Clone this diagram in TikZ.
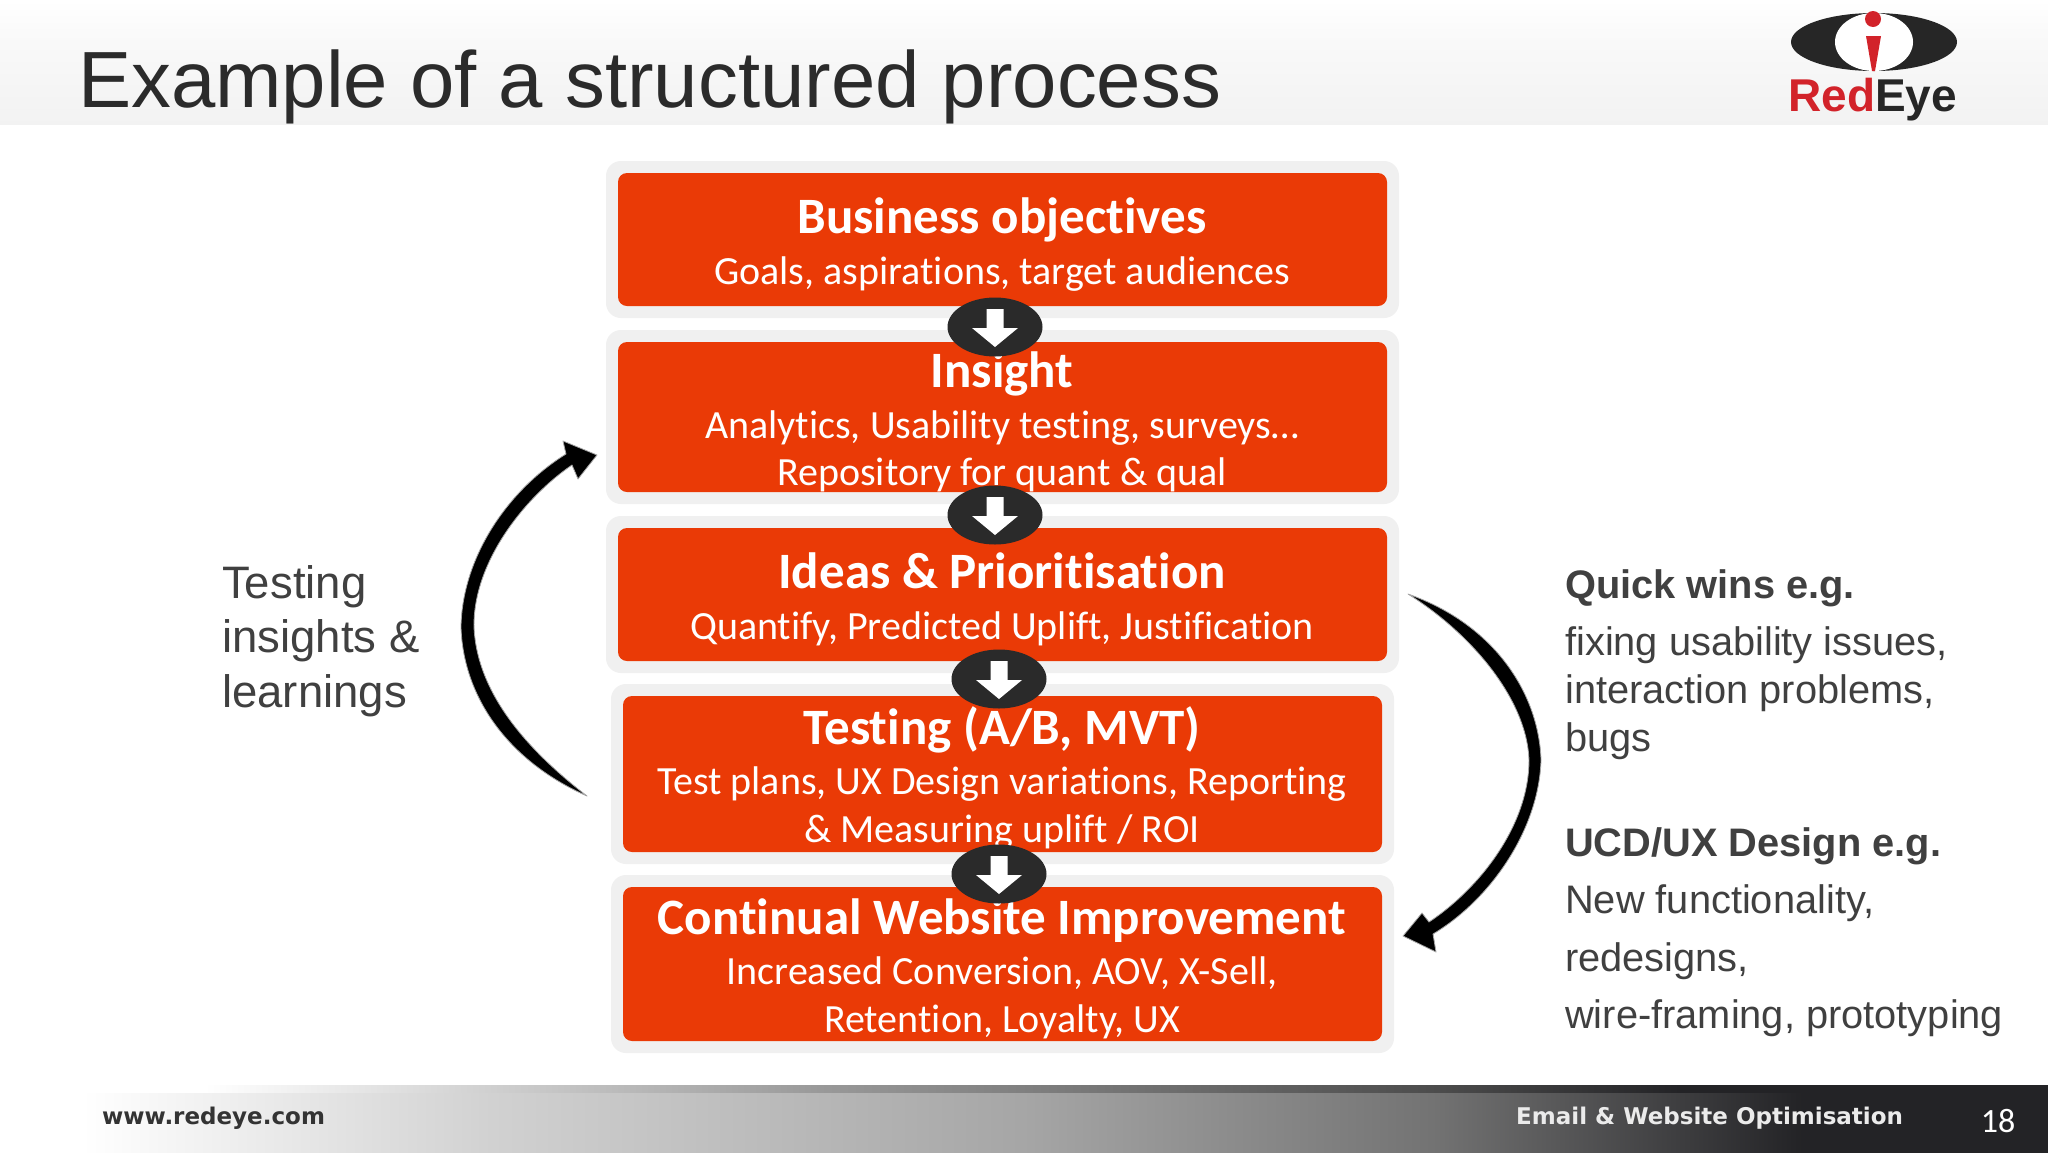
\documentclass[tikz,border=0pt]{standalone}
\usepackage{fontspec}
\setmainfont{Liberation Sans}
\newfontfamily\boxfont[Ligatures=NoCommon]{Carlito}
\newfontfamily\footfont{DejaVu Sans}
\usetikzlibrary{shapes.geometric}
\definecolor{boxorange}{HTML}{EA3A06}
\definecolor{halogray}{HTML}{F0F0F0}
\definecolor{ovaldark}{HTML}{2A2A2A}
\definecolor{footdark}{HTML}{232326}
\definecolor{inktext}{HTML}{404040}
\definecolor{titleink}{HTML}{2B2B2B}
\definecolor{logored}{HTML}{D2232A}
\pgfdeclareverticalshading{headshade}{100bp}{color(0bp)=(white!95!black); color(25bp)=(white!95!black); color(62bp)=(white!98!black); color(75bp)=(white); color(100bp)=(white)}
\pgfdeclarehorizontalshading{footshade}{100bp}{color(0bp)=(white); color(27bp)=(white); color(37bp)=(white!82!black); color(50bp)=(white!65!black); color(60bp)=(white!45!black); color(69bp)=(footdark); color(100bp)=(footdark)}
\pgfdeclarehorizontalshading{footedge}{100bp}{color(0bp)=(white); color(30bp)=(white); color(45bp)=(white!60!black); color(60bp)=(white!30!black); color(66bp)=(footdark); color(100bp)=(footdark)}
\tikzset{
  x=1pt,y=-1pt,
  halo/.style={fill=halogray,rounded corners=15pt},
  panel/.style={fill=boxorange,rounded corners=9pt},
  headline/.style={anchor=base,text=white,font=\boxfont\bfseries\fontsize{51}{51}\selectfont,inner sep=0pt},
  subline/.style={anchor=base,text=white,font=\boxfont\fontsize{40}{40}\selectfont,inner sep=0pt},
  roundel/.style={ellipse,fill=ovaldark,minimum width=95pt,minimum height=59pt,inner sep=0pt},
  sidetext/.style={anchor=base west,text=inktext,font=\fontsize{39.8}{40}\selectfont,inner sep=0pt},
  sidehead/.style={anchor=base west,text=inktext,font=\bfseries\fontsize{39.8}{40}\selectfont,inner sep=0pt},
  lefttext/.style={anchor=base west,text=inktext,font=\fontsize{45.5}{46}\selectfont,inner sep=0pt},
  sweep/.style={fill=black,draw=black!35,line width=0.8pt,line join=round},
}
\newcommand{\downmark}[1]{\fill[white,shift={(#1.center)}] (-8.5,-18) -- (8.5,-18) -- (8.5,1) -- (23,1) -- (0,20) -- (-23,1) -- (-8.5,1) -- cycle;}
\begin{document}
\begin{tikzpicture}
\useasboundingbox (0,0) rectangle (2048,1152);
\fill[white] (0,0) rectangle (2048,1152);
% header band
\shade[shading=headshade] (0,0) rectangle (2048,124);
\node[anchor=base west,text=titleink,font=\fontsize{79.7}{80}\selectfont,inner sep=0pt] (title) at (78,107) {Example of a structured process};
% logo
\fill[black!85] (1874,42) ellipse [x radius=83, y radius=29];
\fill[white] (1874,42) ellipse [x radius=39, y radius=29];
\fill[logored] (1873,19) circle (8);
\fill[logored] (1866,36) -- (1881,36) -- (1875,71) -- (1872,71) -- cycle;
\node[anchor=base west,inner sep=0pt,font=\bfseries\fontsize{46}{46}\selectfont] (logoword) at (1788,111) {\textcolor{logored}{Red}\textcolor{black!85}{Eye}};
% halos
\fill[halo] (606,161) rectangle (1399,318);
\fill[halo] (606,330) rectangle (1399,504);
\fill[halo] (606,516) rectangle (1399,673);
\fill[halo] (611,684) rectangle (1394,864);
\fill[halo] (611,875) rectangle (1394,1053);
% boxes
\path[panel] (618,173) rectangle (1387,306);
\path[panel] (618,342) rectangle (1387,492);
\path[panel] (618,528) rectangle (1387,661);
\path[panel] (623,696) rectangle (1382,852);
\path[panel] (623,887) rectangle (1382,1041);
% box text
\node[headline] (t1) at (1002,233) {Business objectives};
\node[subline] (s1) at (1002,284) {Goals, aspirations, target audiences};
\node[headline] (t2) at (1002,387) {Insight};
\node[subline] (s2a) at (1002,438) {Analytics, Usability testing, surveys\ldots};
\node[subline] (s2b) at (1002,485) {Repository for quant \& qual};
\node[headline] (t3) at (1002,588) {Ideas \& Prioritisation};
\node[subline] (s3) at (1002,639.5) {Quantify, Predicted Uplift, Justification};
\node[headline] (t4) at (1002,744) {Testing (A/B, MVT)};
\node[subline] (s4a) at (1002,794.5) {Test plans, UX Design variations, Reporting};
\node[subline] (s4b) at (1002,842) {\& Measuring uplift / ROI};
\node[headline] (t5) at (1002,934) {Continual Website Improvement};
\node[subline] (s5a) at (1002,984.5) {Increased Conversion, AOV, X-Sell,};
\node[subline] (s5b) at (1002,1032.5) {Retention, Loyalty, UX};
% roundels
\node[roundel] (o1) at (995,327) {};
\node[roundel] (o2) at (995,515) {};
\node[roundel] (o3) at (999,679) {};
\node[roundel] (o4) at (999,874) {};
\downmark{o1}\downmark{o2}\downmark{o3}\downmark{o4}
% curved arrows
\path[sweep] (587,796) .. controls (530,752) and (477,695) .. (474,627) .. controls (473,562) and (525,497) .. (572,465)
  -- (578,479) -- (597,455) -- (563,441) -- (566,454)
  .. controls (505,492) and (462,560) .. (461,627) .. controls (463,695) and (506,760) .. cycle;
\path[sweep] (1408,594) .. controls (1472,634) and (1527,700) .. (1529,760) .. controls (1529,825) and (1480,888) .. (1429,922)
  -- (1422,913) -- (1403,936) -- (1436,952) -- (1433,934)
  .. controls (1490,900) and (1539,830) .. (1541,760) .. controls (1539,695) and (1496,625) .. cycle;
% side text
\node[lefttext] (l1) at (222,598) {Testing};
\node[lefttext] (l2) at (222,652) {insights \&};
\node[lefttext] (l3) at (222,707) {learnings};
\node[sidehead] (r1) at (1565,598) {Quick wins e.g.};
\node[sidetext] (r2) at (1565,655) {fixing usability issues,};
\node[sidetext] (r3) at (1565,703) {interaction problems,};
\node[sidetext] (r4) at (1565,751) {bugs};
\node[sidehead] (r5) at (1565,856) {UCD/UX Design e.g.};
\node[sidetext] (r6) at (1565,913) {New functionality,};
\node[sidetext] (r7) at (1565,971) {redesigns,};
\node[sidetext] (r8) at (1565,1028) {wire-framing, prototyping};
% footer
\shade[shading=footshade] (0,1085) rectangle (2048,1152);
\shade[shading=footedge] (0,1085) rectangle (2048,1092);
\node[anchor=base west,text=black!80,font=\footfont\bfseries\fontsize{23}{23}\selectfont,inner sep=0pt] (f1) at (102,1124) {www.redeye.com};
\node[anchor=base west,text=white!92!black,font=\footfont\bfseries\fontsize{23}{23}\selectfont,inner sep=0pt] (f2) at (1516,1124) {Email \& Website Optimisation};
\node[anchor=base,text=white,font=\boxfont\fontsize{34}{34}\selectfont,inner sep=0pt] (f3) at (1998,1132) {18};
\end{tikzpicture}
\end{document}
